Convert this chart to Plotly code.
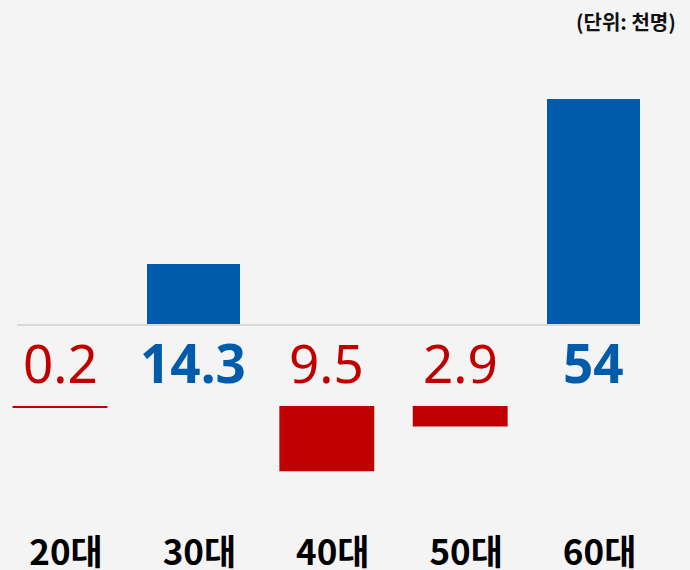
import plotly.graph_objects as go

# ---- data ----
categories = ["20대", "30대", "40대", "50대", "60대"]
values = [-0.2, 14.3, -9.5, -2.9, 54]
unit_label = "(단위: 천명)"

BLUE = "#005BAA"
RED = "#C00000"
BG = "#F4F4F4"

W, H = 690, 570
def py(px):
    return 1 - px / H

pos_vals = [v if v > 0 else None for v in values]
neg_vals = [v if v < 0 else None for v in values]

fig = go.Figure()
fig.add_trace(go.Bar(x=categories, y=pos_vals, marker_color=BLUE, width=0.70,
                     xaxis="x", yaxis="y", showlegend=False, hoverinfo="skip"))
fig.add_trace(go.Bar(x=categories, y=neg_vals, marker_color=RED, width=0.70,
                     marker_line=dict(color=RED, width=1.5),
                     xaxis="x2", yaxis="y2", showlegend=False, hoverinfo="skip"))

# value labels
for c, v in zip(categories, values):
    pos = v > 0
    fig.add_annotation(x=c, xref="x2", y=py(362), yref="paper",
                       text=f"{abs(v):g}", showarrow=False,
                       font=dict(family="Noto Sans", size=53,
                                 color=BLUE if pos else RED,
                                 weight="bold" if pos else "normal"),
                       xanchor="center", yanchor="middle")

fig.add_annotation(x=678 / W, xref="paper", y=py(21), yref="paper",
                   text=unit_label, showarrow=False,
                   font=dict(family="Noto Sans CJK KR", size=20, color="#111111", weight="bold"),
                   xanchor="right", yanchor="middle")

slope = 133.4
c0 = 60
fig.update_layout(
    template="none",
    width=W, height=H,
    margin=dict(l=0, r=0, t=0, b=0, autoexpand=False),
    paper_bgcolor=BG, plot_bgcolor=BG,
    bargap=0,
    xaxis=dict(domain=[17 / W, 640 / W], range=[(17 - c0) / slope, (640 - c0) / slope],
               showline=True, linecolor="#D9D9D9", linewidth=2, automargin=False,
               showticklabels=False, showgrid=False, zeroline=False, anchor="y", ticks=""),
    yaxis=dict(domain=[py(324), py(99)], range=[0, 54], visible=False, automargin=False,
               showgrid=False, zeroline=False, anchor="x"),
    xaxis2=dict(domain=[0, 1], range=[(0 - c0) / slope, (W - c0) / slope],
                showline=False, showgrid=False, zeroline=False, anchor="y2", automargin=False,
                ticks="", ticklen=0, ticklabelshift=6,
                tickfont=dict(family="Noto Sans CJK KR", size=35, color="#000000", weight="bold")),
    yaxis2=dict(domain=[py(529), py(406)], range=[-(529 - 406) / 6.8, 0], visible=False,
                automargin=False, showgrid=False, zeroline=False, anchor="x2"),
)

fig.write_html("out.html",
               config={"displayModeBar": False, "staticPlot": True},
               post_script="document.body.style.margin='0';document.body.style.background='#F4F4F4';")
